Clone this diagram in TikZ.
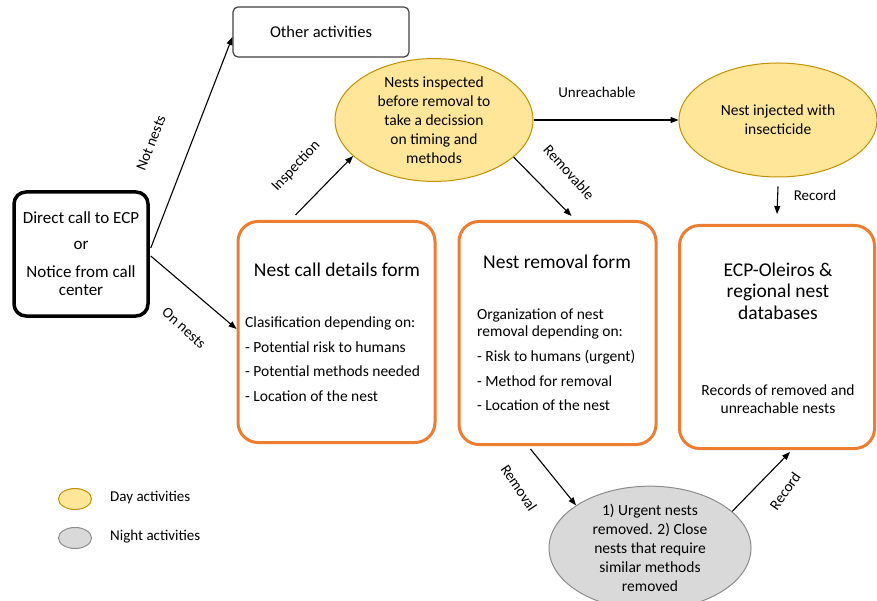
\documentclass[tikz,border=0pt]{standalone}
\usepackage{fontspec}
\setmainfont{Carlito}
\usetikzlibrary{shapes.geometric,arrows.meta,calc}
\definecolor{boxorange}{HTML}{ED7D31}
\definecolor{dayfill}{HTML}{FFE699}
\definecolor{dayline}{HTML}{BF9000}
\definecolor{nightfill}{HTML}{D9D9D9}
\definecolor{nightline}{HTML}{8C8C8C}
\begin{document}
\begin{tikzpicture}[x=1pt,y=-1pt,
  formbox/.style={draw=boxorange, line width=3pt, rounded corners=20pt, minimum width=197pt},
  dayell/.style={ellipse, draw=dayline, fill=dayfill, line width=1pt, inner sep=0pt, align=center,
    font=\fontsize{15.5}{19}\selectfont},
  nightell/.style={ellipse, draw=nightline, fill=nightfill, line width=1pt, inner sep=0pt, align=center,
    font=\fontsize{15.5}{19}\selectfont},
  bodytxt/.style={font=\fontsize{15.5}{18}\selectfont, inner sep=0pt},
  listtxt/.style={bodytxt, anchor=west},
  titletxt/.style={font=\fontsize{19.5}{22}\selectfont, inner sep=0pt},
  lbl/.style={font=\fontsize{15}{18}\selectfont, inner sep=0pt},
  arr/.style={-{Triangle[length=8pt,width=6pt]}, line width=1.1pt},
]
\useasboundingbox (0,0) rectangle (877,601);

% boxes
\node[draw=black!75, line width=1.2pt, rounded corners=5pt, minimum width=176pt, minimum height=50pt,
  font=\fontsize{16.5}{20}\selectfont] (other) at (321,32) {Other activities};
\node[draw=black, line width=3.5pt, rounded corners=12pt, minimum width=134pt, minimum height=124pt] (call) at (81,254) {};
\node[bodytxt, font=\fontsize{17}{20}\selectfont] (c1) at (81,218) {Direct call to ECP};
\node[bodytxt, font=\fontsize{17}{20}\selectfont] (c2) at (81,245) {or};
\node[bodytxt, font=\fontsize{17}{20}\selectfont] (c3) at (81,272) {Notice from call};
\node[bodytxt, font=\fontsize{17}{20}\selectfont] (c4) at (81,290) {center};

\node[formbox, minimum height=221pt] (details) at (336.5,332) {};
\node[titletxt] (dt) at (337,270) {Nest call details form};
\node[listtxt] (d1) at (245,323) {Clasification depending on:};
\node[listtxt] (d2) at (245,347) {- Potential risk to humans};
\node[listtxt] (d3) at (245,371) {- Potential methods needed};
\node[listtxt] (d4) at (245,396) {- Location of the nest};

\node[formbox, minimum height=223pt] (rem) at (557.5,333) {};
\node[titletxt] (rt) at (557,262) {Nest removal form};
\node[listtxt] (r1) at (477,315) {Organization of nest};
\node[listtxt] (r2) at (477,332) {removal depending on:};
\node[listtxt] (r3) at (477,357) {- Risk to humans (urgent)};
\node[listtxt] (r4) at (477,381) {- Method for removal};
\node[listtxt] (r5) at (477,405) {- Location of the nest};

\node[formbox, minimum height=223pt, minimum width=195pt] (db) at (777,337) {};
\node[titletxt] (b1) at (778,270) {ECP-Oleiros \&};
\node[titletxt] (b2) at (778,292) {regional nest};
\node[titletxt] (b3) at (778,313) {databases};
\node[bodytxt] (b4) at (778,390) {Records of removed and};
\node[bodytxt] (b5) at (778,408) {unreachable nests};

% ellipses
\node[dayell, minimum width=198pt, minimum height=115pt] (insp) at (434,120)
  {Nests inspected\\before removal to\\take a decission\\on timing and\\methods};
\node[dayell, minimum width=198pt, minimum height=114pt] (inj) at (778,120)
  {Nest injected with\\insecticide};
\node[nightell, minimum width=202pt, minimum height=106pt] (night) at (650,548)
  {1) Urgent nests\\removed. 2) Close\\nests that require\\similar methods\\removed};

% legend
\node[ellipse, draw=dayline, fill=dayfill, line width=1pt, minimum width=33pt, minimum height=21pt, inner sep=0pt] (legday) at (75,499) {};
\node[lbl, anchor=west] (legdayt) at (110,498) {Day activities};
\node[ellipse, draw=nightline, fill=nightfill, line width=1pt, minimum width=33pt, minimum height=21pt, inner sep=0pt] (legnight) at (75,538) {};
\node[lbl, anchor=west] (legnightt) at (110,537) {Night activities};

% connectors
\coordinate (callA) at ($(call.east)+(1,-6)$);
\coordinate (callB) at ($(call.east)+(1,2)$);
\draw[arr] (callA) -- ($(other.west)+(0,5)$);
\draw[arr] (callB) -- ($(details.west)+(0,-3)$);
\draw[arr] ($(details.north)+(-41,-5)$) -- (insp.204);
\draw[arr] (insp.east) -- (inj.west);
\draw[arr] (insp.-25) -- ($(rem.north)+(14,-4)$);
\draw[arr] ($(inj.south)+(0,9)$) -- ($(db.north)+(0,-10)$);
\draw[arr] ($(rem.south)+(-27,3)$) -- (night.150);
\draw[arr] (night.24) -- ($(db.south)+(13,2)$);

% labels
\node[lbl, rotate=68.5] (lnot) at (151,143) {Not nests};
\node[lbl, rotate=-42] (lon) at (184,328) {On nests};
\node[lbl, rotate=47] (linsp) at (296,166) {Inspection};
\node[lbl] (lunr) at (597,92) {Unreachable};
\node[lbl, rotate=-48] (lremv) at (569,172) {Removable};
\node[lbl] (lrec1) at (815,195) {Record};
\node[lbl, rotate=-56] (lremo) at (519,488) {Removal};
\node[lbl, rotate=55] (lrec2) at (785,491) {Record};
\end{tikzpicture}
\end{document}
